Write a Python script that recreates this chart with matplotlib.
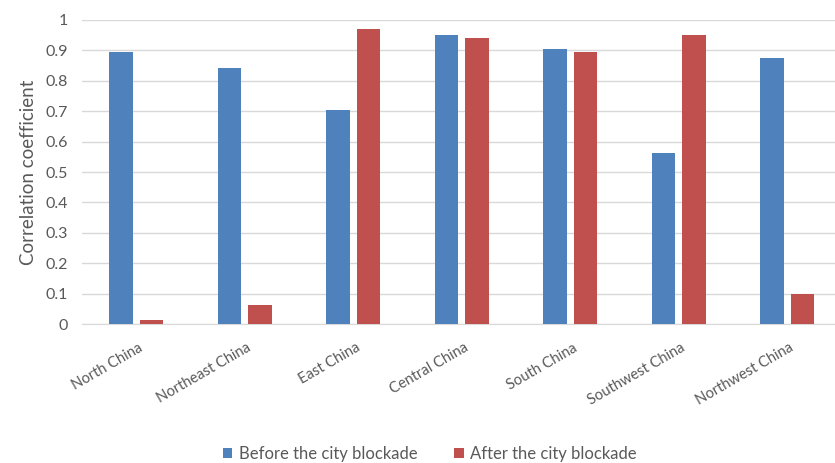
import numpy as np
import matplotlib
matplotlib.use('Agg')
import matplotlib.pyplot as plt

plt.rcParams['font.family'] = ['Lato', 'DejaVu Sans']

# correlation coefficient per region, before / after the blockade
regions = ['North China', 'Northeast China', 'East China', 'Central China',
           'South China', 'Southwest China', 'Northwest China']
before = [0.893, 0.841, 0.705, 0.951, 0.903, 0.563, 0.874]
after = [0.013, 0.063, 0.969, 0.939, 0.893, 0.951, 0.099]
yticks = [0, 0.1, 0.2, 0.3, 0.4, 0.5, 0.6, 0.7, 0.8, 0.9, 1]
ytick_labels = ['0', '0.1', '0.2', '0.3', '0.4', '0.5', '0.6', '0.7', '0.8', '0.9', '1']

blue = '#4F81BD'
red = '#C0504D'
grey = '#595959'

fig = plt.figure(figsize=(8.35, 4.63), dpi=100)
# plot area runs slightly past the right edge of the canvas
ax = fig.add_axes([0.098, 0.300, 0.9096, 0.657])

x = np.arange(len(regions))
w = 0.217
gap = 0.065
ax.bar(x - (w + gap) / 2, before, w, color=blue, label='Before the city blockade', zorder=3)
ax.bar(x + (w + gap) / 2, after, w, color=red, label='After the city blockade', zorder=3)

ax.set_xlim(-0.5, len(regions) - 0.5)
ax.set_ylim(0, 1)
ax.set_yticks(yticks)
ax.set_yticklabels(ytick_labels, fontsize=11.5, color=grey)
ax.yaxis.grid(True, color='#D9D9D9', linewidth=1, zorder=0)
ax.tick_params(axis='y', length=0, pad=10)
ax.tick_params(axis='x', length=0, pad=12)

# labels hang from the category centre, tilted 30 degrees
ax.set_xticks(x + 0.02)
ax.set_xticklabels(regions, rotation=30, ha='right', rotation_mode='anchor',
                   fontsize=10.5, color=grey)

for s in ['top', 'right', 'left']:
    ax.spines[s].set_visible(False)
ax.spines['bottom'].set_color('#D9D9D9')

ax.set_ylabel('Correlation coefficient', fontsize=13.5, color=grey, labelpad=6)

fig.legend(loc='center', bbox_to_anchor=(0.515, 0.02), ncol=2, frameon=False,
           fontsize=12, handlelength=0.55, handleheight=0.55, columnspacing=2.2,
           handletextpad=0.4, labelcolor=grey)

fig.savefig('out.png', dpi=100)
